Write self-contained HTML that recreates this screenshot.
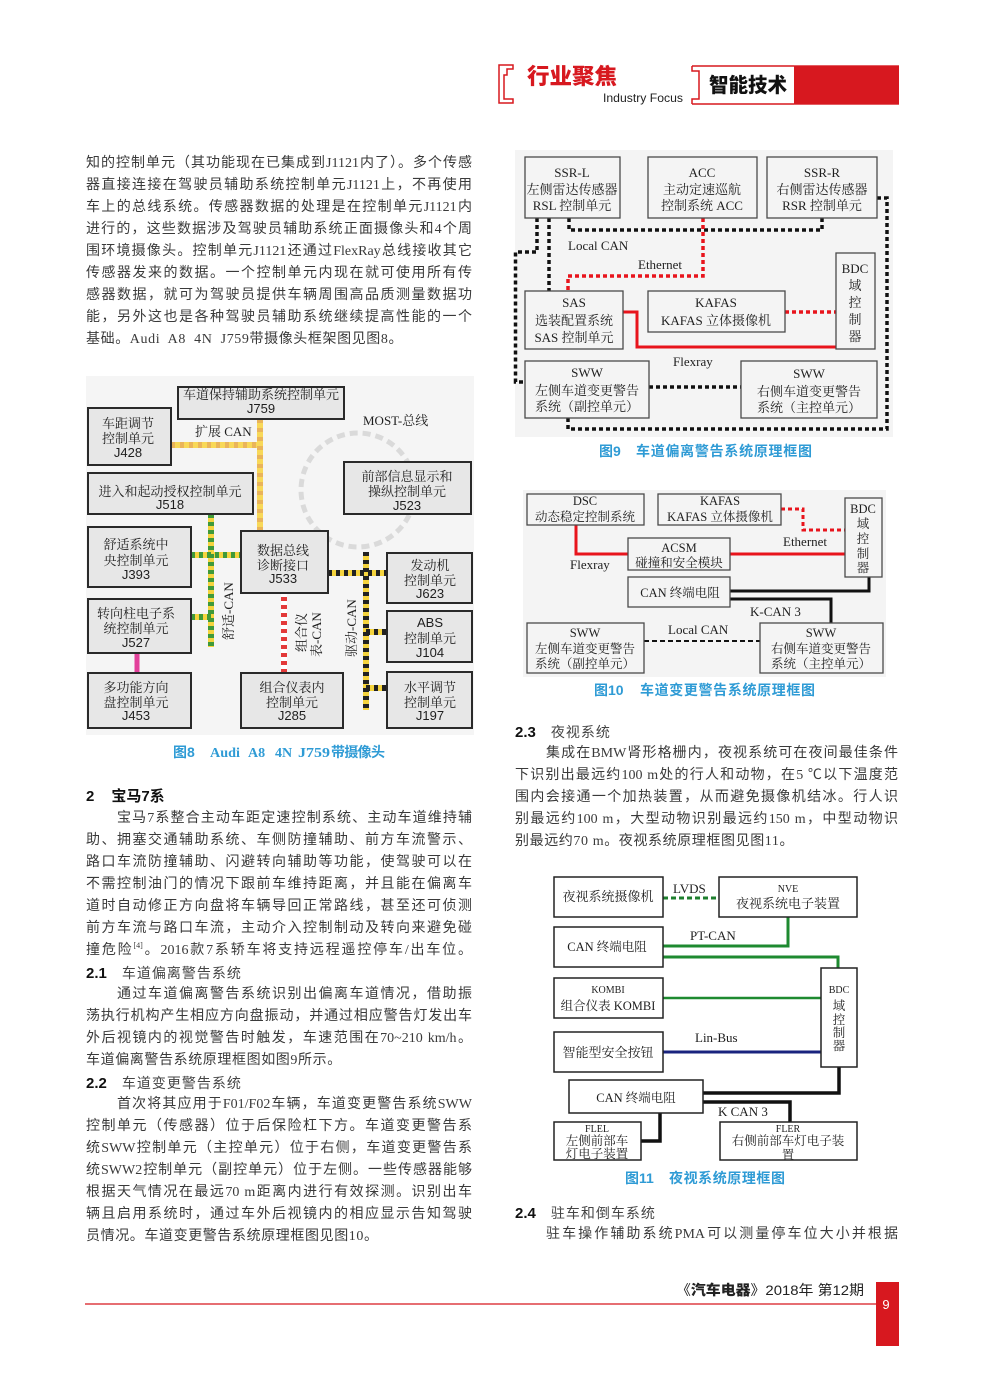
<!DOCTYPE html>
<html><head><meta charset="utf-8">
<style>
html,body{margin:0;padding:0;background:#fff;}
body{width:1006px;height:1375px;position:relative;overflow:hidden;}
svg{position:absolute;left:0;top:0;}
.col{position:absolute;font-family:"Liberation Serif","Noto Sans CJK SC",sans-serif;font-size:14px;line-height:22px;color:#3a3a3a;}
.l{height:22px;text-align:justify;text-align-last:justify;overflow:hidden;white-space:normal;}
.e{text-align:left;text-align-last:left;letter-spacing:0.6px;}
.i{text-indent:31px;}
.hb{font-family:"Liberation Sans","Noto Sans CJK SC",sans-serif;font-weight:bold;font-size:15px;color:#111;}
.hn{font-family:"Liberation Sans","Noto Sans CJK SC",sans-serif;letter-spacing:1px;color:#444;}
sup{font-size:8px;line-height:0;vertical-align:6px;}
</style></head><body>
<svg width="1006" height="1375" viewBox="0 0 1006 1375" xmlns="http://www.w3.org/2000/svg">
<style>
.s{font-family:"Liberation Serif","Noto Serif CJK SC",serif;font-size:13px;fill:#1e1e1e;text-anchor:middle;}
.s12{font-family:"Liberation Serif","Noto Serif CJK SC",serif;font-size:12.5px;fill:#1e1e1e;text-anchor:middle;}
.s10{font-family:"Liberation Serif","Noto Serif CJK SC",serif;font-size:10px;fill:#1e1e1e;text-anchor:middle;}
.a{font-family:"Liberation Sans",sans-serif;font-size:13px;fill:#1e1e1e;text-anchor:middle;}
.lb{font-family:"Liberation Serif","Noto Serif CJK SC",serif;font-size:13px;fill:#1e1e1e;}
.cap{font-family:"Liberation Sans","Noto Sans CJK SC",sans-serif;font-size:14px;font-weight:bold;fill:#2f9bd5;}
.capS{font-family:"Liberation Serif","Noto Sans CJK SC",serif;font-size:14px;font-weight:bold;fill:#2f9bd5;}
.b8{fill:#e7e7e7;stroke:#2a2a2a;stroke-width:2;}
.b9{fill:#f4f4f4;stroke:#4a4a4a;stroke-width:1.3;}
.b11{fill:#fff;stroke:#222;stroke-width:1.5;}
</style>

<!-- HEADER -->
<path d="M513 65 H499 V103 H513 V99 H504 V75 H507 V69 H513 Z" fill="none" stroke="#d7181f" stroke-width="1.5"/>
<text x="527" y="84" font-family="Noto Sans CJK SC,sans-serif" font-size="22" font-weight="900" fill="#d7181f" textLength="90" lengthAdjust="spacingAndGlyphs">行业聚焦</text>
<text x="603" y="102" font-family="Liberation Sans,sans-serif" font-size="12" fill="#222" textLength="80" lengthAdjust="spacingAndGlyphs">Industry Focus</text>
<path d="M692 66 H794 M692 104 H794" stroke="#d7181f" stroke-width="1.5" fill="none"/>
<path d="M692 66 V71 H699 V99 H692 V104" fill="none" stroke="#d7181f" stroke-width="1.5"/>
<rect x="794" y="65.3" width="105" height="39.4" fill="#d7181f"/>
<text x="709" y="92" font-family="Noto Sans CJK SC,sans-serif" font-size="20" font-weight="900" fill="#111" textLength="78" lengthAdjust="spacingAndGlyphs">智能技术</text>

<!-- FIG 8 -->
<rect x="86" y="376" width="388" height="359" fill="#f5f5f5"/>
<circle cx="358" cy="490" r="57" fill="none" stroke="#dadada" stroke-width="5" stroke-dasharray="8 5"/>
<g fill="none" stroke-width="6">
<path d="M260 419 V531 M171 445 H260" stroke="#f8d858"/>
<path d="M260 419 V531 M171 445 H260" stroke="#eab45a" stroke-dasharray="4 5"/>
<path d="M211 514 V647 M191 555 H241 M191 617 H211" stroke="#f5d43e"/>
<path d="M211 514 V647 M191 555 H241 M191 617 H211" stroke="#3f9a3a" stroke-dasharray="4 4"/>
<path d="M284 593 V673" stroke="#e33a3a"/>
<path d="M284 593 V673" stroke="#ffffff" stroke-dasharray="4 4"/>
<path d="M366 552 V710 M328 573 H387 M366 632 H387 M366 688 H387" stroke="#f5d43e"/>
<path d="M366 552 V710 M328 573 H387 M366 632 H387 M366 688 H387" stroke="#222" stroke-dasharray="4 4"/>
<path d="M137 653 V673" stroke="#e2409a" stroke-width="5"/>
</g>
<rect class="b8" x="178" y="387" width="166" height="32"/>
<text class="s" x="261" y="399">车道保持辅助系统控制单元</text><text class="a" x="261" y="413">J759</text>
<rect class="b8" x="88" y="408" width="83" height="57"/>
<text class="s" x="128" y="428">车距调节</text><text class="s" x="128" y="443">控制单元</text><text class="a" x="128" y="457">J428</text>
<rect class="b8" x="88" y="473" width="165" height="41"/>
<text class="s" x="170" y="496">进入和起动授权控制单元</text><text class="a" x="170" y="509">J518</text>
<rect class="b8" x="344" y="462" width="127" height="52"/>
<text class="s" x="407" y="481">前部信息显示和</text><text class="s" x="407" y="496">操纵控制单元</text><text class="a" x="407" y="510">J523</text>
<rect class="b8" x="88" y="527" width="103" height="60"/>
<text class="s" x="136" y="549">舒适系统中</text><text class="s" x="136" y="565">央控制单元</text><text class="a" x="136" y="579">J393</text>
<rect class="b8" x="88" y="599" width="103" height="54"/>
<text class="s" x="136" y="618">转向柱电子系</text><text class="s" x="136" y="633">统控制单元</text><text class="a" x="136" y="647">J527</text>
<rect class="b8" x="88" y="673" width="103" height="55"/>
<text class="s" x="136" y="692">多功能方向</text><text class="s" x="136" y="707">盘控制单元</text><text class="a" x="136" y="720">J453</text>
<rect class="b8" x="241" y="531" width="87" height="62"/>
<text class="s" x="283" y="555">数据总线</text><text class="s" x="283" y="570">诊断接口</text><text class="a" x="283" y="583">J533</text>
<rect class="b8" x="241" y="673" width="102" height="55"/>
<text class="s" x="292" y="692">组合仪表内</text><text class="s" x="292" y="707">控制单元</text><text class="a" x="292" y="720">J285</text>
<rect class="b8" x="387" y="553" width="85" height="50"/>
<text class="s" x="430" y="570">发动机</text><text class="s" x="430" y="585">控制单元</text><text class="a" x="430" y="598">J623</text>
<rect class="b8" x="387" y="611" width="85" height="51"/>
<text class="a" x="430" y="627">ABS</text><text class="s" x="430" y="643">控制单元</text><text class="a" x="430" y="657">J104</text>
<rect class="b8" x="387" y="672" width="85" height="56"/>
<text class="s" x="430" y="692">水平调节</text><text class="s" x="430" y="707">控制单元</text><text class="a" x="430" y="720">J197</text>
<text class="lb" x="195" y="436">扩展 CAN</text>
<text class="lb" x="363" y="425">MOST-总线</text>
<text class="lb" transform="translate(233,640) rotate(-90)">舒适-CAN</text>
<text class="lb" transform="translate(306,652) rotate(-90)">组合仪</text>
<text class="lb" transform="translate(321,657) rotate(-90)">表-CAN</text>
<text class="lb" transform="translate(356,657) rotate(-90)">驱动-CAN</text>
<text class="cap" x="173" y="757">图8</text>
<text class="capS" x="210" y="757" textLength="30" lengthAdjust="spacingAndGlyphs">Audi</text>
<text class="capS" x="248" y="757">A8</text>
<text class="capS" x="275" y="757">4N</text>
<text class="capS" x="298" y="757" textLength="32" lengthAdjust="spacingAndGlyphs">J759</text>
<text class="cap" x="331" y="757" textLength="54" lengthAdjust="spacing">带摄像头</text>

<!-- FIG 9 -->
<rect x="515" y="150" width="378" height="287" fill="#f4f4f4"/>
<g fill="none" stroke-width="3.5" stroke-dasharray="4 3">
<path d="M569 218 V230 H822 V218" stroke="#111"/>
<path d="M549 218 V291" stroke="#111"/>
<path d="M537 218 V252 H515.5 V382 H525" stroke="#111"/>
<path d="M649 387 H741" stroke="#111"/>
<path d="M877 198 H887 V429 H568 V418" stroke="#111"/>
<path d="M703 218 V276 H568 V291" stroke="#e8141c"/>
<path d="M785 312 H836" stroke="#e8141c"/>
</g>
<path d="M623 312 H637 V347 H836" fill="none" stroke="#e8141c" stroke-width="3"/>
<rect class="b9" x="525" y="157" width="95" height="61"/>
<text class="s" x="572" y="177">SSR-L</text><text class="s" x="572" y="194">左侧雷达传感器</text><text class="s" x="572" y="210">RSL 控制单元</text>
<rect class="b9" x="648" y="157" width="109" height="61"/>
<text class="s" x="702" y="177">ACC</text><text class="s" x="702" y="194">主动定速巡航</text><text class="s" x="702" y="210">控制系统 ACC</text>
<rect class="b9" x="767" y="157" width="110" height="61"/>
<text class="s" x="822" y="177">SSR-R</text><text class="s" x="822" y="194">右侧雷达传感器</text><text class="s" x="822" y="210">RSR 控制单元</text>
<rect class="b9" x="836" y="253" width="39" height="96"/>
<text class="s" x="855" y="273">BDC</text><text class="s" x="855" y="290">域</text><text class="s" x="855" y="307">控</text><text class="s" x="855" y="324">制</text><text class="s" x="855" y="341">器</text>
<rect class="b9" x="525" y="291" width="98" height="58"/>
<text class="s" x="574" y="307">SAS</text><text class="s" x="574" y="325">选装配置系统</text><text class="s" x="574" y="342">SAS 控制单元</text>
<rect class="b9" x="648" y="291" width="137" height="41"/>
<text class="s" x="716" y="307">KAFAS</text><text class="s" x="716" y="325">KAFAS  立体摄像机</text>
<rect class="b9" x="525" y="361" width="124" height="57"/>
<text class="s" x="587" y="377">SWW</text><text class="s" x="587" y="395">左侧车道变更警告</text><text class="s" x="587" y="411">系统（副控单元）</text>
<rect class="b9" x="741" y="361" width="136" height="57"/>
<text class="s" x="809" y="378">SWW</text><text class="s" x="809" y="396">右侧车道变更警告</text><text class="s" x="809" y="412">系统（主控单元）</text>
<text class="lb" x="568" y="250">Local CAN</text>
<text class="lb" x="638" y="269">Ethernet</text>
<text class="lb" x="673" y="366">Flexray</text>
<text class="cap" x="599" y="456">图9</text>
<text class="cap" x="636" y="456" textLength="176" lengthAdjust="spacing">车道偏离警告系统原理框图</text>

<!-- FIG 10 -->
<rect x="523" y="490" width="363" height="187" fill="#f4f4f4"/>
<path d="M576 525 V554 H628 M730 554 H845" fill="none" stroke="#e8141c" stroke-width="3"/>
<path d="M781 509 H803 V530 H845" fill="none" stroke="#e8141c" stroke-width="3" stroke-dasharray="4 3"/>
<path d="M730 591 H869 V577 M730 599 H831 V623" fill="none" stroke="#111" stroke-width="3"/>
<path d="M644 641 H760" fill="none" stroke="#111" stroke-width="2" stroke-dasharray="5 3"/>
<rect class="b9" x="527" y="494" width="117" height="31"/>
<text class="s12" x="585" y="505">DSC</text><text class="s12" x="585" y="521">动态稳定控制系统</text>
<rect class="b9" x="658" y="494" width="123" height="31"/>
<text class="s12" x="720" y="505">KAFAS</text><text class="s12" x="720" y="521">KAFAS 立体摄像机</text>
<rect class="b9" x="845" y="498" width="37" height="79"/>
<text class="s12" x="863" y="513">BDC</text><text class="s12" x="863" y="528">域</text><text class="s12" x="863" y="543">控</text><text class="s12" x="863" y="558">制</text><text class="s12" x="863" y="572">器</text>
<rect class="b9" x="628" y="538" width="102" height="32"/>
<text class="s12" x="679" y="552">ACSM</text><text class="s12" x="679" y="567">碰撞和安全模块</text>
<rect class="b9" x="628" y="577" width="102" height="30"/>
<text class="s12" x="680" y="597">CAN 终端电阻</text>
<rect class="b9" x="527" y="623" width="117" height="50"/>
<text class="s12" x="585" y="637">SWW</text><text class="s12" x="585" y="653">左侧车道变更警告</text><text class="s12" x="585" y="668">系统（副控单元）</text>
<rect class="b9" x="760" y="623" width="123" height="50"/>
<text class="s12" x="821" y="637">SWW</text><text class="s12" x="821" y="653">右侧车道变更警告</text><text class="s12" x="821" y="668">系统（主控单元）</text>
<text class="lb" x="570" y="569">Flexray</text>
<text class="lb" x="783" y="546">Ethernet</text>
<text class="lb" x="750" y="616">K-CAN 3</text>
<text class="lb" x="668" y="634">Local CAN</text>
<text class="cap" x="594" y="695">图10</text>
<text class="cap" x="640" y="695" textLength="175" lengthAdjust="spacing">车道变更警告系统原理框图</text>

<!-- FIG 11 -->
<path d="M663 898 H719" fill="none" stroke="#1e7f2e" stroke-width="3" stroke-dasharray="5 3"/>
<path d="M788 917 V946 H663 M663 957 H838 V968" fill="none" stroke="#1e8a30" stroke-width="3"/>
<path d="M663 998 H821" fill="none" stroke="#1e8a30" stroke-width="2.5"/>
<path d="M663 1052 H821" fill="none" stroke="#1a237e" stroke-width="3"/>
<path d="M839 1067 V1093 H703 M703 1102 H790 V1122 M660 1113 V1141 H641" fill="none" stroke="#111" stroke-width="3.5"/>
<rect class="b11" x="554" y="877" width="109" height="40"/>
<text class="s" x="608" y="901">夜视系统摄像机</text>
<rect class="b11" x="719" y="877" width="138" height="40"/>
<text class="s10" x="788" y="892">NVE</text><text class="s" x="788" y="908">夜视系统电子装置</text>
<rect class="b11" x="554" y="927" width="109" height="40"/>
<text class="s12" x="607" y="951">CAN  终端电阻</text>
<rect class="b11" x="554" y="978" width="109" height="40"/>
<text class="s10" x="608" y="993">KOMBI</text><text class="s12" x="608" y="1010">组合仪表  KOMBI</text>
<rect class="b11" x="821" y="968" width="36" height="99"/>
<text class="s10" x="839" y="993">BDC</text><text class="s12" x="839" y="1010">域</text><text class="s12" x="839" y="1024">控</text><text class="s12" x="839" y="1037">制</text><text class="s12" x="839" y="1050">器</text>
<rect class="b11" x="554" y="1032" width="109" height="40"/>
<text class="s" x="608" y="1057">智能型安全按钮</text>
<rect class="b11" x="569" y="1080" width="134" height="33"/>
<text class="s12" x="636" y="1102">CAN  终端电阻</text>
<rect class="b11" x="554" y="1122" width="87" height="38"/>
<text class="s10" x="597" y="1132">FLEL</text><text class="s12" x="597" y="1145">左侧前部车</text><text class="s12" x="597" y="1158">灯电子装置</text>
<rect class="b11" x="720" y="1122" width="137" height="38"/>
<text class="s10" x="788" y="1132">FLER</text><text class="s12" x="788" y="1145">右侧前部车灯电子装</text><text class="s12" x="788" y="1159">置</text>
<text class="lb" x="673" y="893">LVDS</text>
<text class="lb" x="690" y="940">PT-CAN</text>
<text class="lb" x="695" y="1042">Lin-Bus</text>
<text class="lb" x="718" y="1116">K CAN 3</text>
<text class="cap" x="625" y="1183">图11</text>
<text class="cap" x="669" y="1183" textLength="116" lengthAdjust="spacing">夜视系统原理框图</text>

<!-- FOOTER -->
<path d="M85 1304 H876" stroke="#d7181f" stroke-width="1.2"/>
<rect x="876" y="1282" width="23" height="64" fill="#d7181f"/>
<text x="886" y="1309" font-family="Liberation Sans,sans-serif" font-size="13" fill="#fff" text-anchor="middle">9</text>
<text x="676" y="1295" font-family="Liberation Sans,Noto Sans CJK SC,sans-serif" font-size="14" fill="#222" textLength="188" lengthAdjust="spacingAndGlyphs">《<tspan font-weight="900">汽车电器</tspan>》2018年 第12期</text>
</svg>

<!-- LEFT COLUMN TOP -->
<div class="col" style="left:86px;top:153px;width:386px;">
<div class="l">知的控制单元（其功能现在已集成到J1121内了）。多个传感</div>
<div class="l">器直接连接在驾驶员辅助系统控制单元J1121上，不再使用</div>
<div class="l">车上的总线系统。传感器数据的处理是在控制单元J1121内</div>
<div class="l">进行的，这些数据涉及驾驶员辅助系统正面摄像头和4个周</div>
<div class="l">围环境摄像头。控制单元J1121还通过FlexRay总线接收其它</div>
<div class="l">传感器发来的数据。一个控制单元内现在就可使用所有传</div>
<div class="l">感器数据，就可为驾驶员提供车辆周围高品质测量数据功</div>
<div class="l">能，另外这也是各种驾驶员辅助系统继续提高性能的一个</div>
<div class="l e">基础。Audi&nbsp; A8&nbsp; 4N&nbsp; J759带摄像头框架图见图8。</div>
</div>

<!-- LEFT COLUMN BOTTOM -->
<div class="col" style="left:86px;top:786px;width:386px;">
<div class="l e" style="letter-spacing:0"><span class="hb">2</span><span style="display:inline-block;width:17px"></span><span class="hb">宝马7系</span></div>
<div class="l i">宝马7系整合主动车距定速控制系统、主动车道维持辅</div>
<div class="l">助、拥塞交通辅助系统、车侧防撞辅助、前方车流警示、</div>
<div class="l">路口车流防撞辅助、闪避转向辅助等功能，使驾驶可以在</div>
<div class="l">不需控制油门的情况下跟前车维持距离，并且能在偏离车</div>
<div class="l">道时自动修正方向盘将车辆导回正常路线，甚至还可侦测</div>
<div class="l">前方车流与路口车流，主动介入控制制动及转向来避免碰</div>
<div class="l">撞危险<sup>[4]</sup>。2016款7系轿车将支持远程遥控停车/出车位。</div>
<div class="l e" style="letter-spacing:0"><span class="hb">2.1</span><span style="display:inline-block;width:15px"></span><span class="hn">车道偏离警告系统</span></div>
<div class="l i">通过车道偏离警告系统识别出偏离车道情况，借助振</div>
<div class="l">荡执行机构产生相应方向盘振动，并通过相应警告灯发出车</div>
<div class="l">外后视镜内的视觉警告时触发，车速范围在70~210 km/h。</div>
<div class="l e">车道偏离警告系统原理框图如图9所示。</div>
<div class="l e" style="letter-spacing:0"><span class="hb">2.2</span><span style="display:inline-block;width:15px"></span><span class="hn">车道变更警告系统</span></div>
<div class="l i">首次将其应用于F01/F02车辆，车道变更警告系统SWW</div>
<div class="l">控制单元（传感器）位于后保险杠下方。车道变更警告系</div>
<div class="l">统SWW控制单元（主控单元）位于右侧，车道变更警告系</div>
<div class="l">统SWW2控制单元（副控单元）位于左侧。一些传感器能够</div>
<div class="l">根据天气情况在最远70 m距离内进行有效探测。识别出车</div>
<div class="l">辆且启用系统时，通过车外后视镜内的相应显示告知驾驶</div>
<div class="l e">员情况。车道变更警告系统原理框图见图10。</div>
</div>

<!-- RIGHT COLUMN -->
<div class="col" style="left:515px;top:721px;width:383px;">
<div class="l e" style="letter-spacing:0"><span class="hb">2.3</span><span style="display:inline-block;width:15px"></span><span class="hn">夜视系统</span></div>
<div class="l i">集成在BMW肾形格栅内，夜视系统可在夜间最佳条件</div>
<div class="l">下识别出最远约100 m处的行人和动物，在5 ℃以下温度范</div>
<div class="l">围内会接通一个加热装置，从而避免摄像机结冰。行人识</div>
<div class="l">别最远约100 m，大型动物识别最远约150 m，中型动物识</div>
<div class="l e">别最远约70 m。夜视系统原理框图见图11。</div>
</div>

<div class="col" style="left:515px;top:1202px;width:383px;">
<div class="l e" style="letter-spacing:0"><span class="hb">2.4</span><span style="display:inline-block;width:15px"></span><span class="hn">驻车和倒车系统</span></div>
<div class="l i">驻车操作辅助系统PMA可以测量停车位大小并根据</div>
</div>
</body></html>
